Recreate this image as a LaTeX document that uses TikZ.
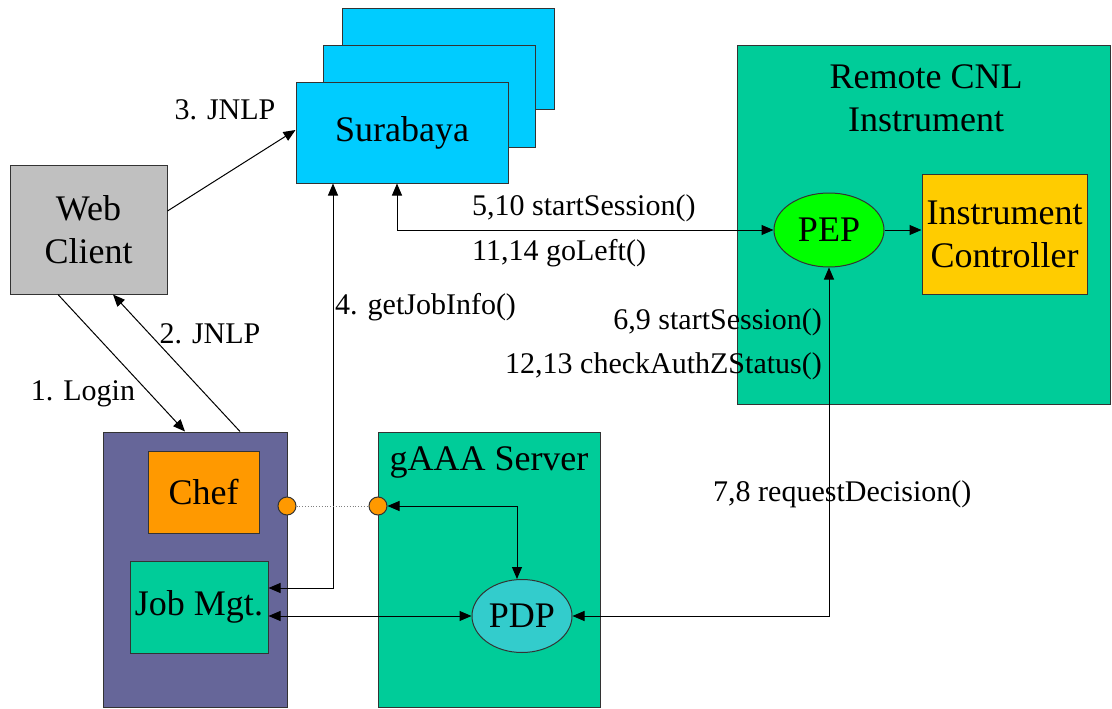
\documentclass[tikz,border=0pt]{standalone}
\usepackage{fontspec}
\setmainfont{Liberation Serif}
\usetikzlibrary{arrows.meta,shapes.geometric,calc}
\definecolor{cgray}{HTML}{C0C0C0}
\definecolor{cpurple}{HTML}{666699}
\definecolor{cteal}{HTML}{00CC99}
\definecolor{ccyan}{HTML}{00CCFF}
\definecolor{corange}{HTML}{FF9900}
\definecolor{cgold}{HTML}{FFCC00}
\definecolor{cgreen}{HTML}{00FF00}
\definecolor{cpdp}{HTML}{33CCCC}
\tikzset{
  box/.style={draw=black!80, line width=1pt, inner sep=0pt, align=center,
    font=\fontsize{36}{43}\selectfont},
  ell/.style={box, ellipse},
  lbl/.style={font=\fontsize{30}{34}\selectfont, inner sep=0pt},
  big/.style={font=\fontsize{36}{43}\selectfont, inner sep=0pt, align=center},
  arr/.style={-{Triangle[length=12pt,width=10pt]}, line width=1pt},
  darr/.style={{Triangle[length=12pt,width=10pt]}-{Triangle[length=12pt,width=10pt]}, line width=1pt},
  dot/.style={circle, draw=black!80, line width=1pt, fill=corange, minimum size=18pt, inner sep=0pt}
}
\begin{document}
\begin{tikzpicture}[x=1pt,y=-1pt]
\useasboundingbox (0,0) rectangle (1112,709);
% containers
\node[box, fill=cpurple, minimum width=184pt, minimum height=275pt] (client) at (195,569.5) {};
\node[box, fill=cteal, minimum width=222pt, minimum height=275pt] (gaaa) at (489,569.5) {};
\node[box, fill=cteal, minimum width=373pt, minimum height=358pt] (remote) at (923.5,225) {};
\node[big] (gaaalbl) at (489,462) {gAAA Server};
\node[big] (remotelbl) at (926,98) {Remote CNL\\Instrument};
% nodes
\node[box, fill=cgray, minimum width=157pt, minimum height=129pt] (web) at (88.5,229.5) {Web\\Client};
\node[box, fill=ccyan, minimum width=212pt, minimum height=101pt] (back2) at (448,59.5) {};
\node[box, fill=ccyan, minimum width=212pt, minimum height=101pt] (back1) at (429,96.5) {};
\node[box, fill=ccyan, minimum width=212pt, minimum height=100pt] (sura) at (402,133) {Surabaya};
\node[box, fill=corange, minimum width=111pt, minimum height=82pt] (chef) at (203.5,492) {Chef};
\node[box, fill=cteal, minimum width=138pt, minimum height=92pt] (job) at (199,607) {Job Mgt.};
\node[ell, fill=cpdp, minimum width=100pt, minimum height=73pt] (pdp) at (522,616) {PDP};
\node[ell, fill=cgreen, minimum width=110pt, minimum height=74pt] (pep) at (829,230) {PEP};
\node[box, fill=cgold, minimum width=165pt, minimum height=120pt] (ic) at (1004.5,234) {Instrument\\Controller};
% connectors
\draw[arr] ([yshift=18.5pt]web.east) -- ([yshift=3pt]sura.west);
\draw[arr] ([xshift=-30.5pt]web.south) -- ([xshift=-10pt]client.north);
\draw[arr] ([xshift=45pt]client.north) -- ([xshift=24.5pt]web.south);
\draw[darr] ([yshift=19pt]job.east) -| ([xshift=-69pt]sura.south);
\draw[darr] ([xshift=-5pt]sura.south) |- (pep.west);
\draw[arr] (pep.east) -- (ic.west |- pep.east);
\draw[darr] ([yshift=-9pt]job.east) -- (pdp.west);
\draw[darr] (pdp.east) -| (pep.south);
\node[dot] (c1) at (287,506) {};
\node[dot] (c2) at (378,506) {};
\draw[gray, dotted, line width=0.8pt] (c1.east) -- (c2.west);
\draw[darr] (c2.east) -| ([xshift=-5pt]pdp.north);
% labels
\node[lbl] (l3) at (225,110) {3. JNLP};
\node[lbl] (l1) at (83,394) {1. Login};
\node[lbl] (l2) at (210,334) {2. JNLP};
\node[lbl, anchor=west] (l4) at (335,307) {4. getJobInfo()};
\node[lbl, anchor=west] (l510) at (472,208) {5,10 startSession()};
\node[lbl, anchor=west] (l1114) at (472,253) {11,14 goLeft()};
\node[lbl, anchor=east] (l69) at (822,322) {6,9 startSession()};
\node[lbl, anchor=east] (l1213) at (822,366) {12,13 checkAuthZStatus()};
\node[lbl, anchor=west] (l78) at (713,494) {7,8 requestDecision()};
\end{tikzpicture}
\end{document}
